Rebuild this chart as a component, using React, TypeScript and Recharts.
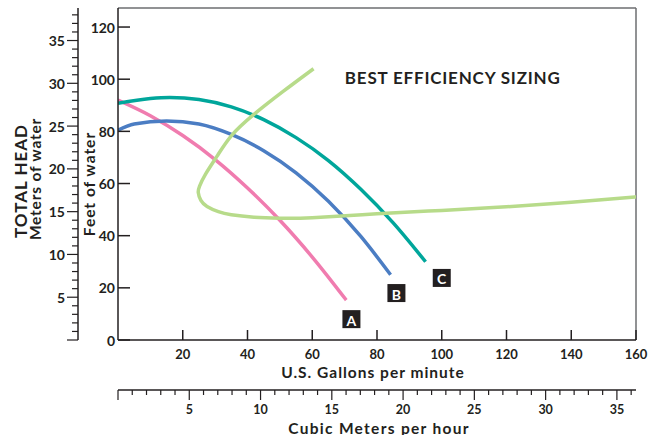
import { LineChart, Line, XAxis, YAxis, ReferenceLine, ReferenceDot, Label } from "recharts";

const FONT = "Lato, 'Open Sans', sans-serif";
const INK = "#231f20";
const FRAME = "#6d6e71";

// pump curves: US gallons per minute vs feet of head
const pumpAFlow = [0, 10, 20, 30, 40, 50, 60, 70.5];
const pumpAHead = [92, 86, 78.4, 69.2, 58.3, 45.9, 31.8, 15.3];

const pumpBFlow = [0, 5, 15, 25, 35, 45, 55, 65, 75, 84.2];
const pumpBHead = [80.5, 82.8, 84, 82.8, 78.8, 72.6, 64.1, 53.2, 39.7, 25];

const pumpCFlow = [0, 10, 16, 25, 35, 45, 55, 65, 75, 85, 95];
const pumpCHead = [90.8, 92.6, 93, 92.2, 89.4, 84.5, 77.6, 68.8, 57.8, 44.9, 30];

// best efficiency sizing loop (drawn in order, not sorted by flow)
const bepFlow = [60.4, 51, 41.8, 35, 30.6, 27, 25.2, 24.8, 25.6, 27.5, 31, 35, 42, 50, 60, 80, 100, 120, 140, 160];
const bepHead = [104, 95.3, 86.3, 78.3, 70.5, 63.5, 59, 56.5, 53.5, 51.2, 49.2, 48, 47.1, 46.7, 46.9, 48.4, 49.7, 51.1, 52.8, 54.9];

const tagNames = ["A", "B", "C"];
const tagFlow = [72.1, 86, 100];
const tagHead = [8, 18, 23.8];

const gpmTicks = [20, 40, 60, 80, 100, 120, 140, 160];
const feetTicks = [0, 20, 40, 60, 80, 100, 120];
const meterTicks = [0, 1, 2, 3, 4, 5, 6, 7, 8, 9, 10, 11, 12, 13, 14, 15, 16, 17, 18, 19, 20, 21, 22, 23, 24, 25, 26, 27, 28, 29, 30, 31, 32, 33, 34, 35, 36, 37, 38];
const cmhTicks = [0, 1, 2, 3, 4, 5, 6, 7, 8, 9, 10, 11, 12, 13, 14, 15, 16, 17, 18, 19, 20, 21, 22, 23, 24, 25, 26, 27, 28, 29, 30, 31, 32, 33, 34, 35, 36];

const gpmMax = 160;
const ftMax = 127.3;
const meterMax = ftMax / 3.28084;
const cmhMax = gpmMax / 4.40287;

// range rows for the secondary axes, which carry no series of their own
const unitRange = [
  { cmh: 0, m: 0 },
  { cmh: cmhMax, m: meterMax },
];

const toPoints = (flow: number[], head: number[]) => flow.map((gpm, i) => ({ gpm, ft: head[i] }));

const FeetTick = ({ x, y, payload }: any) => (
  <g>
    <line x1={x} x2={x + 12} y1={y} y2={y} stroke={INK} strokeWidth={1.5} />
    <text x={x - 3} y={y} textAnchor="end" dominantBaseline="central" fontFamily={FONT} fontWeight={700} fontSize={14} fill={INK}>
      {payload.value}
    </text>
  </g>
);

const MeterTick = ({ x, y, payload }: any) => {
  const major = payload.value % 5 === 0;
  return (
    <g>
      <line x1={x - (major ? 11 : 6)} x2={x} y1={y} y2={y} stroke={INK} strokeWidth={1.2} />
      {major && payload.value > 0 && (
        <text x={x - 13} y={y} textAnchor="end" dominantBaseline="central" fontFamily={FONT} fontWeight={700} fontSize={14} fill={INK}>
          {payload.value}
        </text>
      )}
    </g>
  );
};

const GpmTick = ({ x, y, payload }: any) => (
  <g>
    <line x1={x} x2={x} y1={y - 10} y2={y} stroke={INK} strokeWidth={1.5} />
    <text x={x} y={y + 14} textAnchor="middle" dominantBaseline="central" fontFamily={FONT} fontWeight={700} fontSize={13} fill={INK}>
      {payload.value}
    </text>
  </g>
);

const CmhTick = ({ x, y, payload }: any) => {
  const major = payload.value % 5 === 0;
  return (
    <g>
      <line x1={x} x2={x} y1={y} y2={y + (major ? 10 : 5)} stroke={INK} strokeWidth={1.2} />
      {major && payload.value > 0 && (
        <text x={x} y={y + 19} textAnchor="middle" dominantBaseline="central" fontFamily={FONT} fontWeight={700} fontSize={12.5} fill={INK}>
          {payload.value}
        </text>
      )}
    </g>
  );
};

const titleStyle = { fontFamily: FONT, fontWeight: 700, fill: INK } as const;

const GpmTitle = ({ viewBox }: any) => (
  <text x={viewBox.x + viewBox.width / 2 - 4} y={viewBox.y + 32} textAnchor="middle" dominantBaseline="central" fontSize={15.5} letterSpacing={1} style={titleStyle}>
    U.S. Gallons per minute
  </text>
);

const CmhTitle = ({ viewBox }: any) => (
  <text x={viewBox.x + viewBox.width / 2 + 2} y={viewBox.y + 37.5} textAnchor="middle" dominantBaseline="central" fontSize={15.5} letterSpacing={1.3} style={titleStyle}>
    Cubic Meters per hour
  </text>
);

const FeetTitle = ({ viewBox }: any) => {
  const cx = viewBox.x + 11;
  const cy = viewBox.y + viewBox.height / 2 + 10;
  return (
    <text x={cx} y={cy} transform={`rotate(-90 ${cx} ${cy})`} textAnchor="middle" dominantBaseline="central" fontSize={15.5} letterSpacing={1} style={titleStyle}>
      Feet of water
    </text>
  );
};

const MeterTitle = ({ viewBox }: any) => {
  const cy = viewBox.y + viewBox.height / 2 + 7;
  const x1 = viewBox.x + 20;
  const x2 = viewBox.x + 35;
  return (
    <g>
      <text x={x1} y={cy} transform={`rotate(-90 ${x1} ${cy})`} textAnchor="middle" dominantBaseline="central" fontSize={17} letterSpacing={1} style={titleStyle}>
        TOTAL HEAD
      </text>
      <text x={x2} y={cy - 2} transform={`rotate(-90 ${x2} ${cy - 2})`} textAnchor="middle" dominantBaseline="central" fontSize={15.5} letterSpacing={0.8} style={titleStyle}>
        Meters of water
      </text>
    </g>
  );
};

const TagBox = ({ cx, cy, name }: any) => (
  <g>
    <rect x={cx - 9} y={cy - 9} width={18} height={18} fill={INK} />
    <text x={cx} y={cy + 1} textAnchor="middle" dominantBaseline="central" fontFamily={FONT} fontWeight={700} fontSize={14} fill="#fff">
      {name}
    </text>
  </g>
);

const series = [
  { key: "A", points: toPoints(pumpAFlow, pumpAHead), color: "#f07caf", type: "monotone" },
  { key: "B", points: toPoints(pumpBFlow, pumpBHead), color: "#4b7dc3", type: "monotone" },
  { key: "C", points: toPoints(pumpCFlow, pumpCHead), color: "#00a69b", type: "monotone" },
  { key: "BEP", points: toPoints(bepFlow, bepHead), color: "#b7db8a", type: "natural" },
];

// axis ids are ordered by name when stacked: "flowGpm" sits next to the plot, "flowM3h" below it
export default function App() {
  return (
    <div style={{ position: "absolute", left: 0, top: 0, background: "#fff" }}>
      <LineChart width={652} height={435} data={unitRange} margin={{ top: 8, right: 16, bottom: 0, left: 0 }}>
        <XAxis
          xAxisId="flowGpm"
          type="number"
          dataKey="gpm"
          domain={[0, gpmMax]}
          ticks={gpmTicks}
          interval={0}
          height={50}
          tickSize={0}
          tickMargin={0}
          tick={<GpmTick />}
          axisLine={{ stroke: INK, strokeWidth: 1.5 }}
          allowDataOverflow
        >
          <Label content={<GpmTitle />} />
        </XAxis>
        <XAxis
          xAxisId="flowM3h"
          type="number"
          dataKey="cmh"
          domain={[0, cmhMax]}
          ticks={cmhTicks}
          interval={0}
          height={45}
          tickSize={0}
          tickMargin={0}
          tick={<CmhTick />}
          axisLine={{ stroke: INK, strokeWidth: 1.5 }}
          allowDataOverflow
        >
          <Label content={<CmhTitle />} />
        </XAxis>
        <YAxis
          yAxisId="headFt"
          type="number"
          domain={[0, ftMax]}
          ticks={feetTicks}
          interval={0}
          width={40}
          tickSize={0}
          tickMargin={0}
          tick={<FeetTick />}
          axisLine={{ stroke: INK, strokeWidth: 1.5 }}
          allowDataOverflow
        >
          <Label content={<FeetTitle />} />
        </YAxis>
        <YAxis
          yAxisId="headM"
          type="number"
          dataKey="m"
          domain={[0, meterMax]}
          ticks={meterTicks}
          interval={0}
          width={78}
          tickSize={0}
          tickMargin={0}
          tick={<MeterTick />}
          axisLine={{ stroke: INK, strokeWidth: 1.5 }}
          allowDataOverflow
        >
          <Label content={<MeterTitle />} />
        </YAxis>

        <ReferenceLine xAxisId="flowGpm" yAxisId="headFt" y={ftMax} stroke={FRAME} strokeWidth={1.5} />
        <ReferenceLine xAxisId="flowGpm" yAxisId="headFt" x={gpmMax} stroke={FRAME} strokeWidth={1.5} />

        {series.map((s) => (
          <Line
            key={s.key}
            xAxisId="flowGpm"
            yAxisId="headFt"
            data={s.points}
            dataKey="ft"
            type={s.type as any}
            stroke={s.color}
            strokeWidth={3.5}
            dot={false}
            activeDot={false}
            isAnimationActive={false}
          />
        ))}

        {tagNames.map((name, i) => (
          <ReferenceDot
            key={name}
            xAxisId="flowGpm"
            yAxisId="headFt"
            x={tagFlow[i]}
            y={tagHead[i]}
            r={9}
            shape={(p: any) => <TagBox cx={p.cx} cy={p.cy} name={name} />}
          />
        ))}

        <ReferenceDot
          xAxisId="flowGpm"
          yAxisId="headFt"
          x={103.4}
          y={100.8}
          r={1}
          shape={(p: any) => (
            <text x={p.cx} y={p.cy} textAnchor="middle" dominantBaseline="central" fontFamily={FONT} fontWeight={700} fontSize={17} letterSpacing={0.8} fill={INK}>
              BEST EFFICIENCY SIZING
            </text>
          )}
        />
      </LineChart>
    </div>
  );
}
